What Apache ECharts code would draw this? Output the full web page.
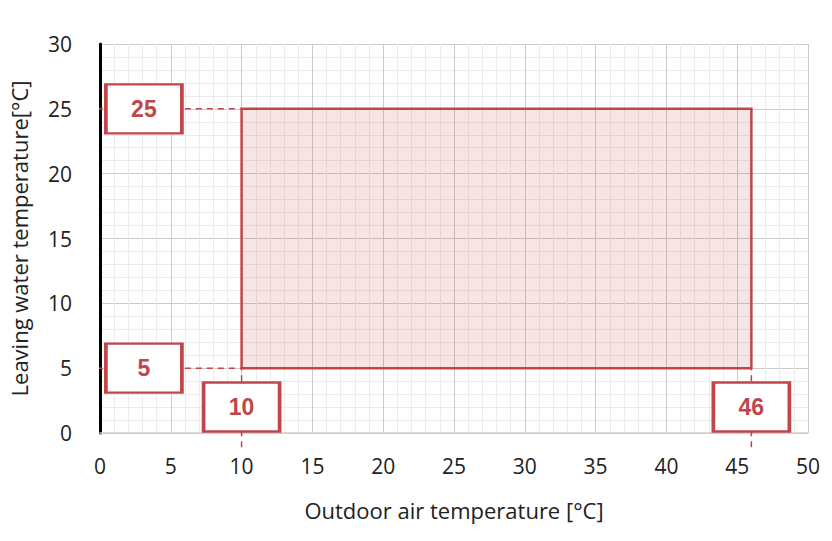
<!DOCTYPE html>
<html><head><meta charset="utf-8">
<script src="https://cdn.jsdelivr.net/npm/echarts@6/dist/echarts.min.js"></script>
<style>html,body{margin:0;background:#fff}#c{width:832px;height:541px}</style>
</head><body><div id="c"></div>
<script>
var xRange = [0, 50];
var yRange = [0, 30];
var envelope = [[10, 5], [46, 25]];
// label boxes: [x, y, text]
var boxes = [[3.1, 25, '25'], [3.1, 5, '5'], [10, 2, '10'], [46, 2, '46']];
// dashed leader lines
var leaders = [
  [[-1, 25], [10, 25]],
  [[-1, 5], [10, 5]],
  [[10, -1.1], [10, 5]],
  [[46, -1.1], [46, 5]]
];
var red = '#c0464a';

var chart = echarts.init(document.getElementById('c'), null, { renderer: 'svg' });
var minorGrid = { show: true, lineStyle: { color: '#ececec', width: 1 } };
var series = leaders.map(function (l) {
  return {
    type: 'line', data: l, clip: false, showSymbol: false, silent: true, z: 3,
    lineStyle: { color: red, type: [6, 5], width: 1.5 }
  };
});
series.push({
  type: 'line', data: [], silent: true,
  markArea: {
    silent: true,
    itemStyle: { color: 'rgba(200,70,74,0.14)', borderColor: red, borderWidth: 2.5 },
    data: [[{ coord: envelope[0] }, { coord: envelope[1] }]]
  }
});
series.push({
  type: 'scatter', clip: false, z: 5,
  symbol: 'rect', symbolSize: [76, 49],
  itemStyle: { color: '#fff', borderColor: red, borderWidth: 3, opacity: 1 },
  label: { show: true, position: 'inside', formatter: function (p) { return p.value[2]; },
    color: red, fontSize: 23, fontWeight: 'bold', fontFamily: 'Liberation Sans' },
  data: boxes
});
chart.setOption({
  animation: false,
  grid: { left: 93, right: 24, top: 44, bottom: 108 },
  xAxis: {
    type: 'value', min: xRange[0], max: xRange[1], interval: 5,
    name: 'Outdoor air temperature [°C]', nameLocation: 'middle', nameGap: 66,
    nameTextStyle: { fontSize: 22, color: '#222', fontFamily: 'Open Sans' },
    axisLabel: { fontSize: 21, color: '#222', margin: 22, fontFamily: 'Open Sans' },
    axisLine: { lineStyle: { color: '#cfcfcf', width: 1.5 } },
    axisTick: { show: false },
    minorTick: { show: false, splitNumber: 5 },
    splitLine: { lineStyle: { color: '#cccccc' } },
    minorSplitLine: minorGrid
  },
  yAxis: {
    type: 'value', min: yRange[0], max: yRange[1], interval: 5,
    name: 'Leaving water temperature[°C]', nameLocation: 'middle', nameGap: 70,
    nameTextStyle: { fontSize: 22, color: '#222', fontFamily: 'Open Sans' },
    axisLabel: { fontSize: 21, color: '#222', margin: 28, fontFamily: 'Open Sans' },
    axisLine: { show: true, lineStyle: { color: '#000', width: 3 } },
    axisTick: { show: false },
    minorTick: { show: false, splitNumber: 5 },
    splitLine: { lineStyle: { color: '#cccccc' } },
    minorSplitLine: minorGrid
  },
  series: series
});
</script></body></html>
